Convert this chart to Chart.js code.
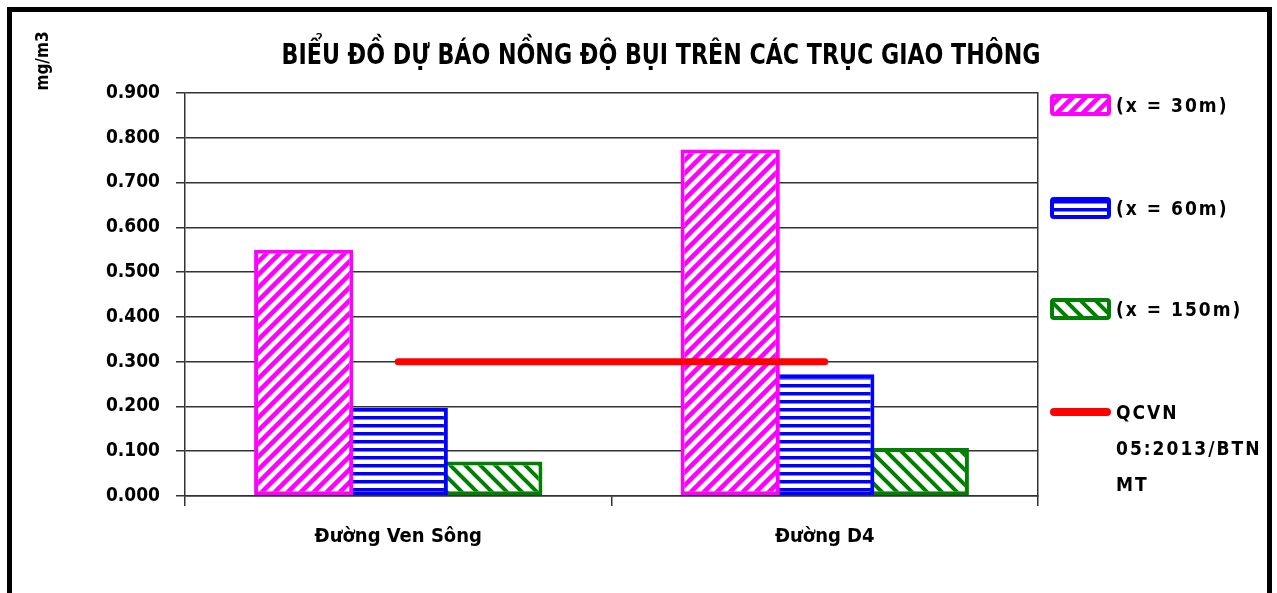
<!DOCTYPE html>
<html>
<head>
<meta charset="utf-8">
<script src="https://cdn.jsdelivr.net/npm/chart.js@4.4.1/dist/chart.umd.min.js"></script>
<style>
  html, body { margin: 0; padding: 0; background: #fff; overflow: hidden; }
  #wrap { position: relative; width: 1277px; height: 593px; }
  #frame { position: absolute; left: 7px; top: 7px; width: 1255px; height: 700px; border: 5px solid #000; pointer-events: none; }
</style>
</head>
<body>
<div id="wrap">
  <canvas id="chart"></canvas>
  <div id="frame"></div>
</div>
<script>
const chartTitle = 'BIỂU ĐỒ DỰ BÁO NỒNG ĐỘ BỤI TRÊN CÁC TRỤC GIAO THÔNG';
const unitLabel = 'mg/m3';
const roads = ['Đường Ven Sông', 'Đường D4'];
const at30m = [0.55, 0.774];
const at60m = [0.197, 0.272];
const at150m = [0.077, 0.107];
const qcvnLimit = [0.3, 0.3];
const legendText = [['(x = 30m)'], ['(x = 60m)'], ['(x = 150m)'], ['QCVN', '05:2013/BTN', 'MT']];
const yMin = 0, yMax = 0.9, yStep = 0.1;

const FONT = "'DejaVu Sans Condensed', 'DejaVu Sans', sans-serif";
Chart.defaults.font.family = FONT;
Chart.defaults.color = '#000';

// hatch fills: 'up' = ////, 'down' = \\\\, 'flat' = horizontal bands
function hatch(color, kind) {
  const c = document.createElement('canvas');
  const g = c.getContext('2d');
  if (kind === 'flat') {
    c.width = 8; c.height = 8;
    g.fillStyle = '#fff'; g.fillRect(0, 0, 8, 8);
    g.fillStyle = color; g.fillRect(0, 0, 8, 3.5);
    return g.createPattern(c, 'repeat');
  }
  const s = kind === 'up' ? 13 : 15;
  c.width = s; c.height = s;
  g.fillStyle = '#fff'; g.fillRect(0, 0, s, s);
  g.strokeStyle = color;
  g.lineWidth = kind === 'up' ? 4.6 : 4;
  g.beginPath();
  if (kind === 'up') {
    g.moveTo(-2, 2); g.lineTo(2, -2);
    g.moveTo(0, s); g.lineTo(s, 0);
    g.moveTo(s - 2, s + 2); g.lineTo(s + 2, s - 2);
  } else {
    g.moveTo(-2, -2); g.lineTo(s + 2, s + 2);
    g.moveTo(s - 2, -2); g.lineTo(s + 2, 2);
    g.moveTo(-2, s - 2); g.lineTo(2, s + 2);
  }
  g.stroke();
  return g.createPattern(c, 'repeat');
}

const decor = {
  id: 'decor',
  afterDraw(chart) {
    const g = chart.ctx;
    g.save();
    g.fillStyle = '#000';
    g.textBaseline = 'middle';
    g.textAlign = 'center';

    // title, squeezed a little to get the narrow look
    g.save();
    g.translate(661, 57);
    g.scale(0.88, 1);
    g.font = `bold 28px ${FONT}`;
    g.fillText(chartTitle, 0, 0);
    g.restore();

    g.save();
    g.translate(44, 61);
    g.rotate(-Math.PI / 2);
    g.font = `bold 17px ${FONT}`;
    g.fillText(unitLabel, 0, 0);
    g.restore();

    // legend column on the right
    const rows = [105, 208, 309, 412];
    g.textAlign = 'left';
    g.letterSpacing = '2px';
    g.font = `bold 19px ${FONT}`;
    chart.data.datasets.forEach((ds, i) => {
      const y = rows[i];
      if (ds.type === 'line') {
        g.strokeStyle = ds.borderColor;
        g.lineWidth = 8;
        g.lineCap = 'round';
        g.beginPath(); g.moveTo(1054, y); g.lineTo(1107, y); g.stroke();
      } else {
        g.beginPath();
        g.roundRect(1052, y - 9, 57, 18, 2);
        g.fillStyle = ds.backgroundColor;
        g.fill();
        g.strokeStyle = ds.borderColor;
        g.lineWidth = 4;
        g.stroke();
      }
      g.fillStyle = '#000';
      legendText[i].forEach((t, k) => g.fillText(t, 1116, y + 2 + k * 36));
    });
    g.restore();
  }
};

const axisLine = '#333';

new Chart(document.getElementById('chart'), {
  type: 'bar',
  data: {
    labels: roads,
    datasets: [
      { label: legendText[0].join(' '), data: at30m, backgroundColor: hatch('#ff00ff', 'up'), borderColor: '#ff00ff', borderWidth: 4, borderSkipped: false, order: 1 },
      { label: legendText[1].join(' '), data: at60m, backgroundColor: hatch('#0000ff', 'flat'), borderColor: '#0000ff', borderWidth: 4, borderSkipped: false, order: 1 },
      { label: legendText[2].join(' '), data: at150m, backgroundColor: hatch('#008000', 'down'), borderColor: '#008000', borderWidth: 4, borderSkipped: false, order: 1 },
      { type: 'line', label: legendText[3].join(' '), data: qcvnLimit, borderColor: '#ff0000', borderWidth: 7, borderCapStyle: 'round', pointRadius: 0, fill: false, order: 0 }
    ]
  },
  options: {
    responsive: true,
    maintainAspectRatio: false,
    animation: false,
    layout: { padding: { top: 93, left: 0, right: 0, bottom: 0 } },
    plugins: { legend: { display: false }, title: { display: false }, tooltip: { enabled: false } },
    datasets: { bar: { barPercentage: 1.05, categoryPercentage: 0.665 } },
    scales: {
      x: {
        offset: true,
        grid: { offset: true, drawOnChartArea: false, tickLength: 10, color: axisLine, lineWidth: 1.5 },
        border: { color: axisLine, width: 1.5 },
        ticks: { padding: 19, font: { size: 20, weight: 'bold' } },
        afterFit: s => { s.height = 97; }
      },
      y: {
        min: yMin, max: yMax,
        ticks: { stepSize: yStep, callback: v => v.toFixed(3), padding: 16, font: { size: 19, weight: 'bold' } },
        grid: { color: axisLine, lineWidth: 1.5, tickLength: 9 },
        border: { color: axisLine, width: 1.5 },
        afterFit: s => { s.width = 185; }
      },
      y2: {
        position: 'right',
        min: yMin, max: yMax,
        ticks: { display: false },
        grid: { drawOnChartArea: false, drawTicks: false },
        border: { color: axisLine, width: 1.5 },
        afterFit: s => { s.width = 239; }
      }
    }
  },
  plugins: [decor]
});
</script>
</body>
</html>
